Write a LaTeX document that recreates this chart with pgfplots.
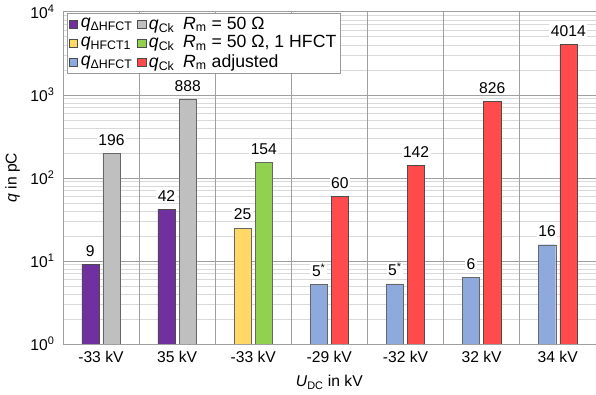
\documentclass[border=0pt]{standalone}
\usepackage{fontspec}
\setmainfont{Liberation Sans}
\usepackage{pgfplots}
\pgfplotsset{compat=1.18}
\definecolor{cpurple}{HTML}{7030A0}
\definecolor{cgray}{HTML}{BFBFBF}
\definecolor{cyellow}{HTML}{FFD966}
\definecolor{cgreen}{HTML}{92D050}
\definecolor{cblue}{HTML}{8EA9DB}
\definecolor{cred}{HTML}{FF4B4B}
\begin{document}
\fontsize{15.5}{18}\selectfont
\begin{tikzpicture}
\begin{axis}[
  scale only axis, width=528pt, height=329pt,
  ymode=log, ymin=1, ymax=10000,
  xmin=-0.5, xmax=6.5,
  xtick={0,...,6},
  xticklabels={-33 kV,35 kV,-33 kV,-29 kV,-32 kV,32 kV,34 kV},
  ytick={1,10,100,1000,10000},
  yticklabels={10\textsuperscript{0},10\textsuperscript{1},10\textsuperscript{2},10\textsuperscript{3},10\textsuperscript{4}},
  ymajorgrids, yminorgrids,
  major y grid style={draw=gray!75},
  minor y grid style={draw=gray!30},
  extra x ticks={0.5,1.5,2.5,3.5,4.5,5.5},
  extra x tick labels={},
  extra x tick style={grid=major, major grid style={draw=gray!75}},
  major tick length=0pt, minor tick length=0pt,
  axis x line*=bottom, axis y line*=left,
  axis line style={-, draw=gray!75},
  ylabel={\textit{q} in pC}, xlabel={\textit{U}\textsubscript{DC} in kV},
  yticklabel style={xshift=-3pt},
  xticklabel style={yshift=-2pt},
  xlabel style={yshift=-2pt},
  ybar, bar width=17pt,
  nodes near coords, point meta=explicit symbolic,
  every node near coord/.append style={fill=white, inner sep=1.5pt, yshift=6pt},
  legend cell align=left,
  legend style={at={(rel axis cs:0.008,0.997)}, anchor=north west, draw=gray!80,
    legend columns=2, inner sep=2pt, row sep=0pt,
    font=\fontsize{17.5}{20}\selectfont,
    /tikz/every odd column/.append style={column sep=1pt},
    /tikz/every even column/.append style={column sep=3pt}},
  legend image code/.code={\draw[#1,draw=black!70] (0pt,-4pt) rectangle (8pt,4pt);},
]
\addplot[fill=cpurple, draw=black!70, bar shift=-10.5pt] coordinates {(0,9) [9] (1,42) [42]};
\addlegendentry{\textit{q}\textsubscript{ΔHFCT}}
\addplot[fill=cgray, draw=black!60, bar shift=10.5pt] coordinates {(0,196) [196] (1,888) [888]};
\addlegendentry{\textit{q}\textsubscript{Ck}\hspace{0.5em}\textit{R}\textsubscript{m} = 50 Ω}
\addplot[fill=cyellow, draw=black!60, bar shift=-10.5pt] coordinates {(2,25) [25]};
\addlegendentry{\textit{q}\textsubscript{HFCT1}}
\addplot[fill=cgreen, draw=black!60, bar shift=10.5pt] coordinates {(2,154) [154]};
\addlegendentry{\textit{q}\textsubscript{Ck}\hspace{0.5em}\textit{R}\textsubscript{m} = 50 Ω, 1 HFCT}
\addplot[fill=cblue, draw=black!60, bar shift=-10.5pt] coordinates {(3,5.17) [5\textsuperscript{*}] (4,5.26) [5\textsuperscript{*}] (5,6.3) [6] (6,15.6) [16]};
\addlegendentry{\textit{q}\textsubscript{ΔHFCT}}
\addplot[fill=cred, draw=black!70, bar shift=10.5pt] coordinates {(3,60) [60] (4,142) [142] (5,826) [826] (6,4014) [4014]};
\addlegendentry{\textit{q}\textsubscript{Ck}\hspace{0.5em}\textit{R}\textsubscript{m} adjusted}
\end{axis}
\end{tikzpicture}
\end{document}
